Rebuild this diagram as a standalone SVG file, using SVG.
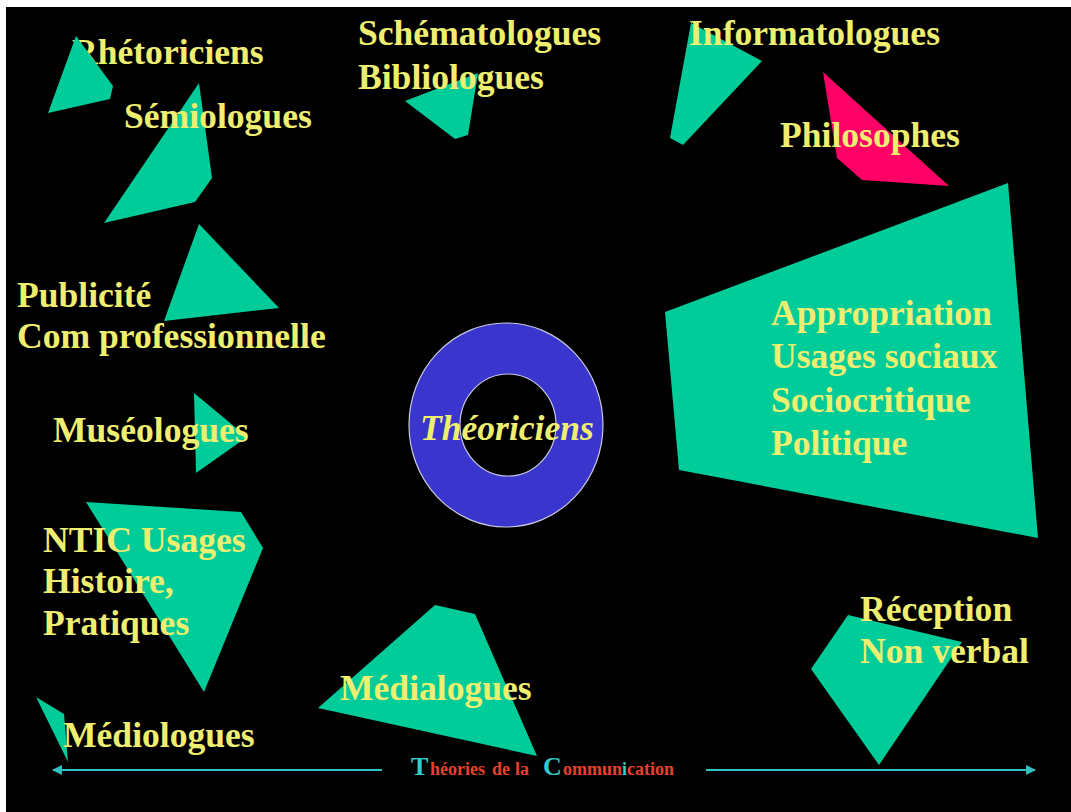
<svg xmlns="http://www.w3.org/2000/svg" width="1071" height="812" viewBox="0 0 1071 812">
<style>
.bg{fill:#000}
.g{fill:#00cc99}
.p{fill:#ff0066}
.t{font-family:"Liberation Serif","Times New Roman",serif;font-weight:bold;font-size:35.6px;fill:#eeee70}
.ti{font-style:italic}
.arr{stroke:#33c0c0;stroke-width:2.2;fill:none}
.ft{font-family:"Liberation Serif","Times New Roman",serif;font-weight:bold;font-size:18px;fill:#e8402c}
.fc{fill:#33cccc;font-size:26px}
</style>
<defs>
<marker id="ah" viewBox="0 0 10 10" refX="9" refY="5" markerWidth="4.5" markerHeight="4.5" orient="auto-start-reverse">
<path d="M0,0 L10,5 L0,10 z" fill="#33c0c0"/>
</marker>
</defs>
<rect x="0" y="0" width="1071" height="812" fill="#fff"/>
<rect class="bg" x="6" y="7" width="1065" height="805"/>

<g id="rhetoriciens">
<text class="t" x="72" y="64">Rhétoriciens</text>
<polygon class="g" points="76,36 113,86 110,99 48,113"/>
</g>
<g id="semiologues">
<polygon class="g" points="199,83 212,178 195,202 104,223"/>
<text class="t" x="124" y="128">Sémiologues</text>
</g>
<g id="schematologues">
<polygon class="g" points="405,101 478,73 468,135 455,139"/>
<text class="t" x="358" y="45">Schématologues</text>
<text class="t" x="358" y="89">Bibliologues</text>
</g>
<g id="informatologues">
<polygon class="g" points="691,23 762,61 683,145 670,138"/>
<text class="t" x="689" y="45">Informatologues</text>
</g>
<g id="philosophes">
<polygon class="p" points="823,72 949,186 862,180 837,158"/>
<text class="t" x="780" y="147">Philosophes</text>
</g>
<g id="publicite">
<polygon class="g" points="199,224 279,308 164,321"/>
<text class="t" x="17" y="307">Publicité</text>
<text class="t" x="17" y="348">Com professionnelle</text>
</g>
<g id="museologues">
<polygon class="g" points="194,393 247,437 196,473"/>
<text class="t" x="53" y="442">Muséologues</text>
</g>
<g id="ntic">
<polygon class="g" points="86,502 241,512 263,548 204,692"/>
<text class="t" x="43" y="552">NTIC Usages</text>
<text class="t" x="43" y="593">Histoire,</text>
<text class="t" x="43" y="635">Pratiques</text>
</g>
<g id="mediologues">
<polygon class="g" points="36,697 64,714 68,762"/>
<text class="t" x="63" y="747">Médiologues</text>
</g>
<g id="medialogues">
<polygon class="g" points="435,605 475,614 537,756 318,708"/>
<text class="t" x="340" y="700">Médialogues</text>
</g>
<g id="reception">
<polygon class="g" points="848,615 962,642 879,765 811,669"/>
<text class="t" x="860" y="621">Réception</text>
<text class="t" x="860" y="663">Non verbal</text>
</g>
<g id="appropriation">
<polygon class="g" points="665,312 1008,183 1038,538 679,470"/>
<text class="t" x="771" y="325">Appropriation</text>
<text class="t" x="771" y="368">Usages sociaux</text>
<text class="t" x="771" y="412">Sociocritique</text>
<text class="t" x="771" y="455">Politique</text>
</g>
<g id="theoriciens">
<path d="M409,425 a97,102 0 1,0 194,0 a97,102 0 1,0 -194,0 z M460,425 a48,51 0 1,0 96,0 a48,51 0 1,0 -96,0 z" fill="#3a35cc" fill-rule="evenodd" stroke="#c8c8e0" stroke-width="1.2"/>
<text class="t ti" x="420" y="440">Théoriciens</text>
</g>

<g id="connectors">
<line class="arr" x1="382" y1="770" x2="53" y2="770" marker-end="url(#ah)"/>
<line class="arr" x1="706" y1="770" x2="1035" y2="770" marker-end="url(#ah)"/>
</g>
<g id="titre">
<text class="ft" y="775"><tspan class="fc" x="411">T</tspan><tspan x="430">héories</tspan><tspan x="492">de</tspan><tspan x="515">la</tspan><tspan class="fc" x="543">C</tspan><tspan x="563">ommun</tspan><tspan fill="#33cccc">i</tspan><tspan>cation</tspan></text>
</g>
</svg>
